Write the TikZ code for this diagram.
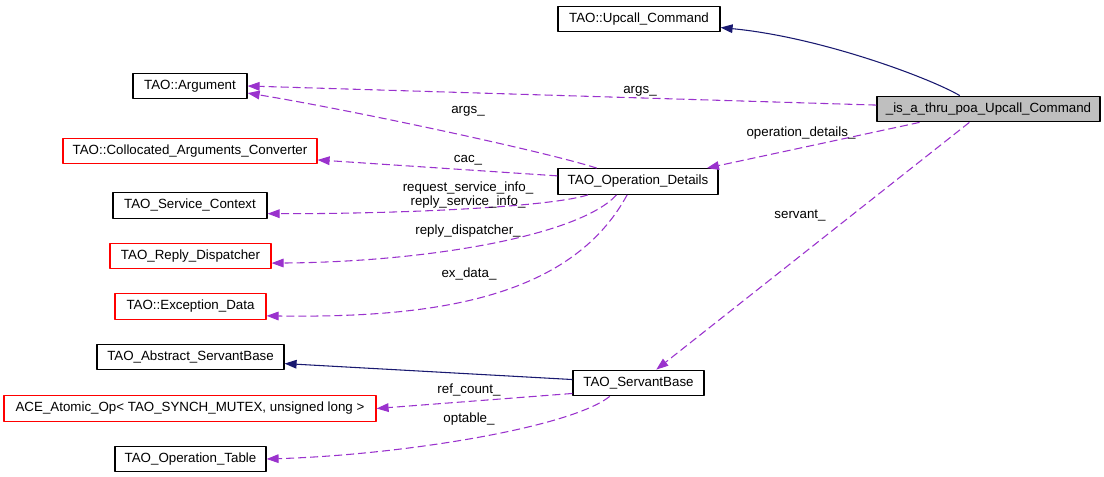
\documentclass[tikz,border=0pt]{standalone}
\usepackage{fontspec}
\setmainfont{Liberation Sans}
\usetikzlibrary{arrows.meta}
\definecolor{usecol}{HTML}{9A32CD}
\definecolor{inhcol}{HTML}{191970}
\definecolor{focusgray}{HTML}{BFBFBF}

\begin{document}
\begin{tikzpicture}[line join=round,x=0.75pt,y=-0.75pt,
		>={Triangle[length=9pt,width=6.5pt]},
		every node/.style={font=\fontsize{10}{10.5}\selectfont},
		cls/.style={draw=black,line width=0.9pt,fill=white,inner sep=0pt,minimum height=19.2pt,minimum width=#1*0.75pt,text height=7.3pt,text depth=2.2pt},
		redcls/.style={cls=#1,draw=red},
		inh/.style={->,draw=inhcol,line width=0.8pt},
		usg/.style={->,draw=usecol,line width=0.8pt,dash pattern=on 6pt off 3pt},
		lbl/.style={inner sep=0pt,text height=7.3pt,text depth=2.2pt,align=center}]
		\useasboundingbox (0,0) rectangle (1104,477);
		\node[cls=223,fill=focusgray] (thru) at (988.5,109) {\_is\_a\_thru\_poa\_Upcall\_Command};
		\node[cls=162] (upcall) at (639,19) {TAO::Upcall\_Command};
		\node[cls=160] (opdet) at (638,181.5) {TAO\_Operation\_Details};
		\node[cls=131] (servbase) at (638.5,383) {TAO\_ServantBase};
		\node[cls=114] (argument) at (190,86) {TAO::Argument};
		\node[redcls=254] (colconv) at (190,151) {TAO::Collocated\_Arguments\_Converter};
		\node[cls=154] (servctx) at (190,205.5) {TAO\_Service\_Context};
		\node[redcls=161] (replydisp) at (190.5,256) {TAO\_Reply\_Dispatcher};
		\node[redcls=151] (exdata) at (190.5,306.5) {TAO::Exception\_Data};
		\node[cls=187] (absservbase) at (190.5,357) {TAO\_Abstract\_ServantBase};
		\node[redcls=372] (atomicop) at (190,408.5) {ACE\_Atomic\_Op< TAO\_SYNCH\_MUTEX, unsigned long >};
		\node[cls=151] (optable) at (190.5,459) {TAO\_Operation\_Table};
		\draw[inh] (thru.155) .. controls (930,78) and (820,37) .. (upcall.-6);
		\draw[usg] (thru.178) -- (argument.east);
		\draw[usg] (opdet.162) .. controls (540,150) and (340,108) .. (argument.-7);
		\draw[usg] (opdet.176) -- (colconv.-4);
		\draw[usg] (opdet.-165) .. controls (550,207) and (400,214) .. (servctx.-6);
		\draw[usg] (opdet.-148) .. controls (580,235) and (430,262) .. (replydisp.-5);
		\draw[usg] (opdet.-129) .. controls (570,300) and (430,318) .. (exdata.-7);
		\draw[usg] (thru.-169) -- (opdet.11);
		\draw[usg] (thru.-145) -- (servbase.37);
		\draw[inh] (servbase.177) -- (absservbase.-4);
		\draw[usg] (servbase.-171) -- (atomicop.east);
		\draw[usg] (servbase.-155) .. controls (570,428) and (400,455) .. (optable.east);
		\node[lbl] (l-args) at (640,90) {args\_};
		\node[lbl] (l-odargs) at (468,110) {args\_};
		\node[lbl] (l-cac) at (468,159) {cac\_};
		\node[lbl] (l-svcinfo) at (468,202) {request\_service\_info\_\\reply\_service\_info\_};
		\node[lbl] (l-reply) at (468,231) {reply\_dispatcher\_};
		\node[lbl] (l-exdata) at (469,274) {ex\_data\_};
		\node[lbl] (l-opdet) at (801,133) {operation\_details\_};
		\node[lbl] (l-servant) at (800,215) {servant\_};
		\node[lbl] (l-refcount) at (469,390) {ref\_count\_};
		\node[lbl] (l-optable) at (469,419) {optable\_};
\end{tikzpicture}
\end{document}
